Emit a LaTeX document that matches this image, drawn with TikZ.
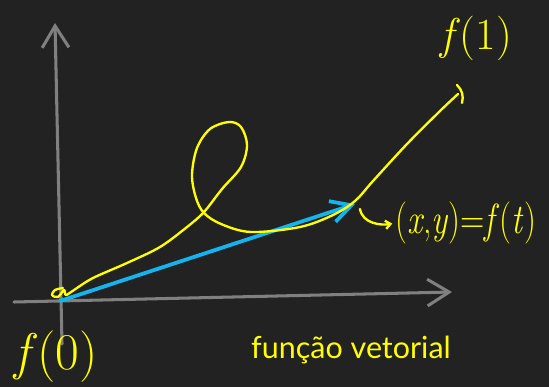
\documentclass[tikz,border=0pt]{standalone}
\usepackage{fontspec}
\usepackage{graphicx}
\usetikzlibrary{arrows.meta,calc}
\newfontfamily\latofont{Lato}
\definecolor{fundo}   {RGB}{34,  34,  34}
\definecolor{eixoCinza}{RGB}{128, 128, 128}
\definecolor{curvaAm} {RGB}{255, 255,  0}
\definecolor{vetAzul} {RGB}{20,  180, 240}

\begin{document}
\begin{tikzpicture}[x=0.03cm,y=-0.03cm,
        ax/.style={draw=eixoCinza,line width=2.6pt,line cap=round,
                   -{Straight Barb[length=6.5mm,width=8mm]}},
        vec/.style={draw=vetAzul,line width=3.2pt,line cap=round,
                    -{Straight Barb[length=6mm,width=6.5mm]}},
        cur/.style={draw=curvaAm,line width=2pt,line cap=round,line join=round},
        hand/.style={text=curvaAm,inner sep=0pt},
        tit/.style={text=curvaAm,font=\latofont\fontsize{26}{26}\selectfont,inner sep=0pt},
        gancho/.style={draw=curvaAm,line width=2pt,line cap=round,
                       -{Straight Barb[length=1.5mm,width=2.5mm]}}]

        % fundo e limites
        \fill[fundo] (0,0) rectangle (549,387);
        \useasboundingbox (0,0) rectangle (549,387);

        \coordinate (xs) at (14,302);
        \coordinate (xe) at (452,292);
        \coordinate (ys) at (62,344);
        \coordinate (ye) at (55,23);
        \coordinate (v0) at (60,301);
        \coordinate (p)  at (355,204);
        \coordinate (hk) at (360,209);

        % eixos
        \draw[ax] (xs)--(xe);
        \draw[ax] (ys)--(ye);

        % vetor f(t)
        \draw[vec] (v0)--(p);

        % curva
        \draw[cur] plot[smooth,tension=0.55] coordinates {
          (63,288) (55,290) (52,295) (58,297) (64,290) (66,295) (74,290)
          (93,278) (127,263) (160,247) (187,227) (204,212) (222,189)
          (241,167) (247,145) (241,127) (229,122) (210,129) (197,148)
          (192,175) (196,198) (204,213) (221,224) (251,232) (300,227)
          (333,215) (355,201) (373,181) (407,144) (440,111) (458,94)};
        \draw[cur] (457,85) to[bend left=30] (462,103);

        \node[hand,font=\fontsize{38}{38}\selectfont] (f1) at (476,38) {\textit{f}(1)};
        \node[hand,font=\fontsize{36}{36}\selectfont] (fxy) at (466,223)
             {\scalebox{0.8}[1]{(\textit{x},\textit{y})=\textit{f}(\textit{t})}};
        \node[hand,font=\fontsize{44}{44}\selectfont] (f0) at (56,357) {\textit{f}(0)};
        \node[tit,anchor=base west] (titulo) at (251,358) {função vetorial};

        \draw[gancho,shorten >=3pt] (hk) to[out=-80,in=190] (fxy.west);
      \end{tikzpicture}
\end{document}
